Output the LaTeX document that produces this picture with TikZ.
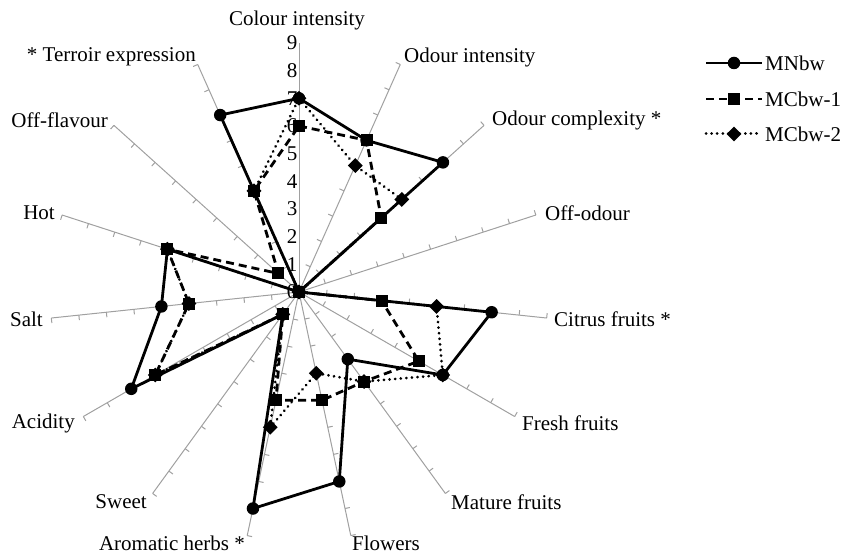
\documentclass[tikz,border=0pt]{standalone}
\usepackage{fontspec}
\setmainfont{Liberation Serif}
\usetikzlibrary{shapes.geometric,calc}
\definecolor{axisgrey}{RGB}{160,160,160}
\begin{document}
\begin{tikzpicture}[x=1pt,y=1pt,
  axisline/.style={draw=axisgrey,line width=1pt},
  ser/.style={line width=2.8pt,black,line join=round},
  serA/.style={ser},
  serB/.style={ser,dash pattern=on 8pt off 5pt},
  serC/.style={ser,line width=3pt,line cap=round,dash pattern=on 0.01pt off 5.6pt},
  mkA/.style={circle,fill=black,inner sep=0pt,minimum size=12.5pt},
  mkB/.style={rectangle,fill=black,inner sep=0pt,minimum size=12pt},
  mkC/.style={diamond,fill=black,inner sep=0pt,minimum size=15pt},
  lab/.style={font=\fontsize{21}{24}\selectfont,inner sep=0pt}]
\useasboundingbox (0,0) rectangle (841,553);
\coordinate (O) at (299,261);
\def\u{27.67}
% axes with ticks
\foreach \i in {0,...,14}{
  \pgfmathsetmacro{\ang}{90-24*\i}
  \draw[axisline] (O) -- ($(O)+(\ang:9*\u)$) coordinate (e\i);
  \ifnum\i>0
    \foreach \k in {1,...,9}{
      \draw[axisline] ($(O)+(\ang:\k*\u)$) coordinate (tk\i-\k) -- ++(\ang+90:5);
    }
  \fi
}
% value labels
\foreach \k in {0,...,9}{
  \node[lab,anchor=east] (v\k) at ($(O)+(-1.5,\k*\u)$) {\k};
}
% data coordinates
\foreach \v [count=\j from 0] in {7,6,7,0,7,6,3,7,8,1,7,5,5,0,7}{
  \coordinate (a\j) at ($(O)+(90-24*\j:\v*\u)$);
}
\foreach \v [count=\j from 0] in {6,6,4,0,3,5,4,4,4,1,6,4,5,1,4}{
  \coordinate (b\j) at ($(O)+(90-24*\j:\v*\u)$);
}
\foreach \v [count=\j from 0] in {7,5,5,0,5,6,4,3,5,1,6,4,5,0,4}{
  \coordinate (c\j) at ($(O)+(90-24*\j:\v*\u)$);
}
% series lines
\draw[serA] (a0) -- (a1) -- (a2) -- (a3) -- (a4) -- (a5) -- (a6) -- (a7) -- (a8) -- (a9) -- (a10) -- (a11) -- (a12) -- (a13) -- (a14) -- cycle;
\draw[serB] (b0) -- (b1) -- (b2) -- (b3) -- (b4) -- (b5) -- (b6) -- (b7) -- (b8) -- (b9) -- (b10) -- (b11) -- (b12) -- (b13) -- (b14) -- cycle;
\draw[serC] (c0) -- (c1) -- (c2) -- (c3) -- (c4) -- (c5) -- (c6) -- (c7) -- (c8) -- (c9) -- (c10) -- (c11) -- (c12) -- (c13) -- (c14) -- cycle;
% markers
\foreach \j in {0,...,14}{
  \node[mkA] (ma\j) at (a\j) {};
  \node[mkB] (mb\j) at (b\j) {};
  \node[mkC] (mc\j) at (c\j) {};
}
% axis labels
\node[lab,anchor=center] (L0) at (297,533) {Colour intensity};
\node[lab,anchor=west] (L1) at (404,496) {Odour intensity};
\node[lab,anchor=west] (L2) at (492,433) {Odour complexity *};
\node[lab,anchor=west] (L3) at (545,340) {Off-odour};
\node[lab,anchor=west] (L4) at (554,234) {Citrus fruits *};
\node[lab,anchor=west] (L5) at (522,130) {Fresh fruits};
\node[lab,anchor=west] (L6) at (451,51) {Mature fruits};
\node[lab,anchor=west] (L7) at (352,10) {Flowers};
\node[lab,anchor=east] (L8) at (245,10) {Aromatic herbs *};
\node[lab,anchor=east] (L9) at (147,51) {Sweet};
\node[lab,anchor=east] (L10) at (75,130) {Acidity};
\node[lab,anchor=east] (L11) at (43,234) {Salt};
\node[lab,anchor=east] (L12) at (55,340) {Hot};
\node[lab,anchor=east] (L13) at (108,433) {Off-flavour};
\node[lab,anchor=east] (L14) at (196,496) {* Terroir expression};
% legend
\coordinate (la1) at (706,490); \coordinate (lb1) at (762,490);
\draw[serA] (la1) -- (lb1);
\node[mkA] (lm1) at ($(la1)!0.5!(lb1)$) {};
\node[lab,anchor=west] (lt1) at (765,490) {MNbw};
\coordinate (la2) at (706,454); \coordinate (lb2) at (762,454);
\draw[serB] (la2) -- (lb2);
\node[mkB] (lm2) at ($(la2)!0.5!(lb2)$) {};
\node[lab,anchor=west] (lt2) at (765,454) {MCbw-1};
\coordinate (la3) at (706,419); \coordinate (lb3) at (762,419);
\draw[serC] (la3) -- (lb3);
\node[mkC] (lm3) at ($(la3)!0.5!(lb3)$) {};
\node[lab,anchor=west] (lt3) at (765,419) {MCbw-2};
\end{tikzpicture}
\end{document}
